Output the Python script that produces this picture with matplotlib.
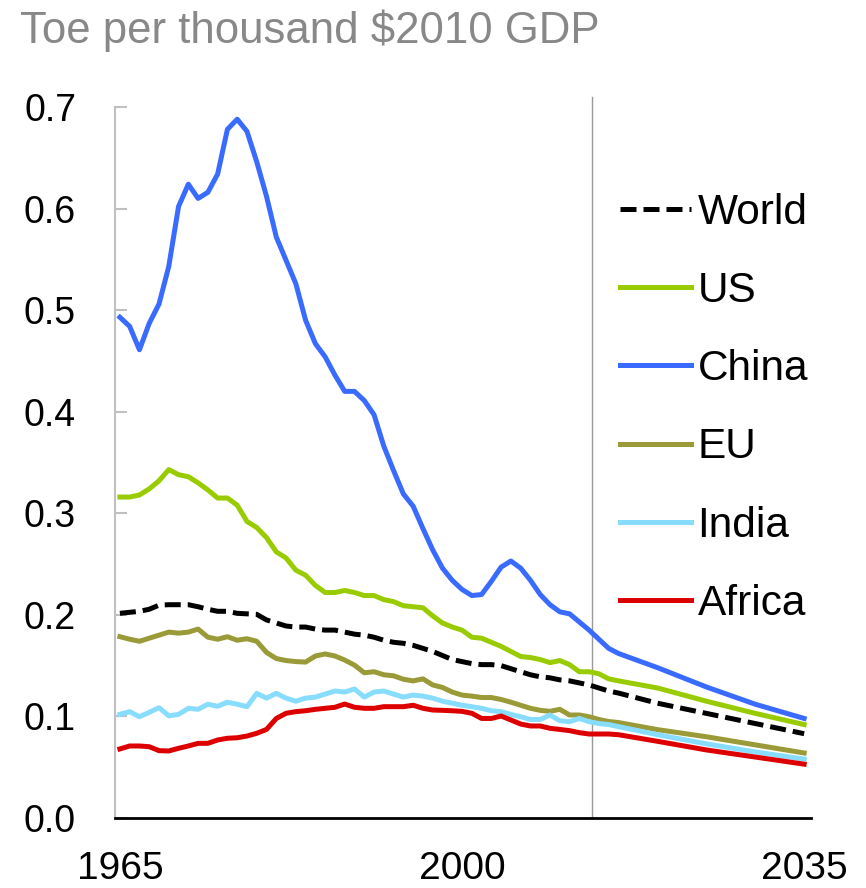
import matplotlib
matplotlib.use('Agg')
from matplotlib import pyplot as plt

years = list(range(1965, 2017)) + [2020, 2025, 2030, 2035]

world = [0.2015, 0.2025, 0.2035, 0.2055, 0.2095, 0.210, 0.210, 0.210, 0.208, 0.2055,
	0.2035, 0.2035, 0.2015, 0.201, 0.2005, 0.195, 0.192, 0.189, 0.188, 0.188,
	0.186, 0.185, 0.185, 0.183, 0.181, 0.180, 0.178, 0.175, 0.173, 0.172,
	0.170, 0.167, 0.164, 0.160, 0.156, 0.154, 0.152, 0.151, 0.151, 0.150,
	0.147, 0.144, 0.141, 0.139, 0.138, 0.136, 0.135, 0.133, 0.131, 0.128,
	0.125, 0.123, 0.113, 0.103, 0.093, 0.083]

us = [0.316, 0.316, 0.318, 0.324, 0.332, 0.343, 0.338, 0.336, 0.330, 0.323,
	0.315, 0.315, 0.308, 0.292, 0.286, 0.276, 0.262, 0.256, 0.244, 0.239,
	0.229, 0.222, 0.222, 0.224, 0.222, 0.219, 0.219, 0.215, 0.213, 0.209,
	0.208, 0.207, 0.199, 0.192, 0.188, 0.185, 0.178, 0.177, 0.173, 0.169,
	0.164, 0.159, 0.158, 0.156, 0.153, 0.155, 0.151, 0.144, 0.144, 0.142,
	0.137, 0.135, 0.128, 0.115, 0.103, 0.092]

china = [0.493, 0.484, 0.461, 0.487, 0.506, 0.543, 0.602, 0.624, 0.610, 0.616,
	0.634, 0.678, 0.688, 0.676, 0.646, 0.612, 0.572, 0.549, 0.526, 0.490,
	0.467, 0.454, 0.436, 0.420, 0.420, 0.411, 0.397, 0.366, 0.342, 0.319,
	0.307, 0.285, 0.264, 0.246, 0.234, 0.225, 0.219, 0.220, 0.233, 0.247,
	0.253, 0.246, 0.234, 0.220, 0.210, 0.203, 0.201, 0.193, 0.185, 0.176,
	0.167, 0.162, 0.148, 0.129, 0.112, 0.098]

eu = [0.1785, 0.176, 0.174, 0.177, 0.180, 0.183, 0.182, 0.183, 0.186, 0.178,
	0.176, 0.1785, 0.175, 0.1765, 0.174, 0.163, 0.157, 0.155, 0.154, 0.1535,
	0.1595, 0.1615, 0.1595, 0.1555, 0.1505, 0.143, 0.144, 0.141, 0.140, 0.1366,
	0.135, 0.137, 0.131, 0.1285, 0.124, 0.121, 0.120, 0.1186, 0.1186, 0.1167,
	0.114, 0.111, 0.108, 0.106, 0.105, 0.107, 0.1014, 0.1014, 0.0997, 0.097,
	0.095, 0.094, 0.087, 0.080, 0.072, 0.064]

india = [0.102, 0.1047, 0.0997, 0.104, 0.1086, 0.1006, 0.102, 0.108, 0.107, 0.112,
	0.110, 0.114, 0.112, 0.1096, 0.1227, 0.118, 0.1227, 0.118, 0.115, 0.118,
	0.119, 0.122, 0.125, 0.124, 0.127, 0.119, 0.124, 0.125, 0.122, 0.119,
	0.121, 0.120, 0.118, 0.115, 0.113, 0.111, 0.1096, 0.108, 0.1056, 0.1047,
	0.102, 0.0997, 0.097, 0.097, 0.1014, 0.0958, 0.0948, 0.098, 0.0948, 0.093,
	0.092, 0.090, 0.082, 0.073, 0.065, 0.058]

africa = [0.068, 0.0709, 0.0709, 0.0702, 0.0663, 0.066, 0.0686, 0.0709, 0.0735, 0.0735,
	0.0768, 0.0785, 0.079, 0.0807, 0.0834, 0.0872, 0.098, 0.1031, 0.1047, 0.1056,
	0.107, 0.108, 0.109, 0.1122, 0.109, 0.108, 0.108, 0.1096, 0.1096, 0.1096,
	0.111, 0.108, 0.1063, 0.106, 0.1056, 0.105, 0.1031, 0.098, 0.098, 0.1004,
	0.0965, 0.0925, 0.0906, 0.0906, 0.0883, 0.0872, 0.086, 0.084, 0.0827, 0.0827,
	0.0827, 0.082, 0.0755, 0.067, 0.060, 0.053]

history_end = 2013.3

plt.rcParams['font.family'] = ['Liberation Sans', 'DejaVu Sans']

fig = plt.figure(figsize=(8.66, 8.88), dpi=100)
ax = fig.add_axes([115 / 866, 70 / 888, 696 / 866, 711 / 888])

lw = 3.6
ax.plot(years, world, color='black', lw=lw, linestyle=(0, (3.2, 1.4)), label='World')
ax.plot(years, us, color='#99cc00', lw=lw, label='US')
ax.plot(years, china, color='#3a6bff', lw=lw, label='China')
ax.plot(years, eu, color='#9a9a38', lw=lw, label='EU')
ax.plot(years, india, color='#88ddff', lw=lw, label='India')
ax.plot(years, africa, color='#dd0000', lw=lw, label='Africa')

# grey line marking where history ends and the outlook starts
ax.plot([history_end, history_end], [0, 0.71], color='#999999', lw=1, clip_on=False, zorder=0)

ax.set_xlim(1964.5, 2035.7)
ax.set_ylim(0, 0.7)
ax.set_xticks([1965, 2000, 2035])
ax.set_yticks([0.0, 0.1, 0.2, 0.3, 0.4, 0.5, 0.6, 0.7])
ax.set_yticklabels(['0.0', '0.1', '0.2', '0.3', '0.4', '0.5', '0.6', '0.7'])

for s in ['top', 'right']:
	ax.spines[s].set_visible(False)
ax.spines['left'].set_color('#c0c0c0')
ax.spines['left'].set_linewidth(1.5)
ax.spines['bottom'].set_color('black')
ax.spines['bottom'].set_linewidth(2)
ax.tick_params(axis='y', direction='in', length=8.6, width=1.5, color='#c0c0c0',
	labelsize=27, pad=28)
ax.tick_params(axis='x', length=0, labelsize=28, pad=24)

fig.text(20 / 866, 1 - 10 / 888, 'Toe per thousand $2010 GDP', color='#888888',
	fontsize=31.5, ha='left', va='top')

ax.legend(loc='upper left', bbox_to_anchor=(620 / 866, 1 - 193 / 888),
	bbox_transform=fig.transFigure, frameon=False, fontsize=30.5, handlelength=1.68,
	handletextpad=0.15, labelspacing=0.9, borderpad=0, borderaxespad=0)

fig.savefig('out.png', dpi=100)
